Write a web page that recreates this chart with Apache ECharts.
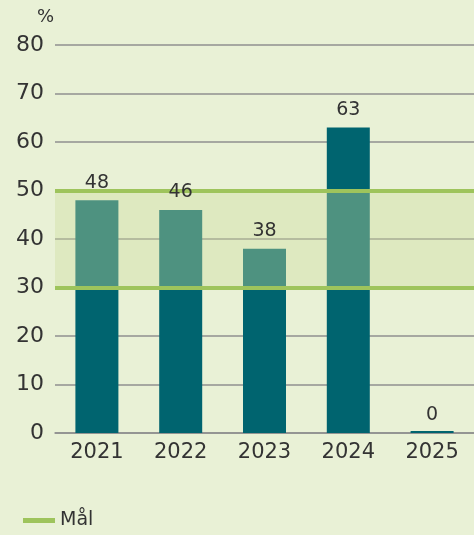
<!DOCTYPE html>
<html>
<head>
<meta charset="utf-8">
<script src="https://cdn.jsdelivr.net/npm/echarts@6/dist/echarts.min.js"></script>
<style>
  html, body { margin: 0; padding: 0; background: #e9f1d6; }
  #chart { width: 474px; height: 535px; }
</style>
</head>
<body>
<div id="chart"></div>
<script>
const years = ['2021', '2022', '2023', '2024', '2025'];
const values = [48, 46, 38, 63, 0];
const goalLow = 30;
const goalHigh = 50;
const yTicks = [0, 10, 20, 30, 40, 50, 60, 70, 80];

const chart = echarts.init(document.getElementById('chart'));
const font = 'DejaVu Sans';

const options = {
  backgroundColor: '#e9f1d6',
  textStyle: { fontFamily: font },
  grid: { left: 55, right: 0, top: 45, bottom: 102, containLabel: false },
  legend: {
    left: 18, bottom: 0,
    itemWidth: 32, itemHeight: 5, itemGap: 4,
    icon: 'rect',
    textStyle: { fontFamily: font, fontSize: 19, color: '#333' },
    data: ['Mål']
  },
  graphic: [{
    type: 'text', left: 37, top: 8,
    style: { text: '%', fontFamily: font, fontSize: 18, fill: '#333' }
  }],
  xAxis: {
    type: 'category',
    data: years,
    axisLine: { show: true, lineStyle: { color: '#8f8f8f', width: 1.5 } },
    axisTick: { show: false },
    axisLabel: { fontFamily: font, fontSize: 21, color: '#333', margin: 9 }
  },
  yAxis: {
    type: 'value',
    min: yTicks[0], max: yTicks[yTicks.length - 1], interval: 10,
    axisLine: { show: false },
    axisTick: { show: false },
    axisLabel: { fontFamily: font, fontSize: 22, color: '#333', margin: 11 },
    splitLine: { lineStyle: { color: '#8f8f8f', width: 1.5 } }
  },
  series: [
    {
      type: 'bar',
      data: values,
      barWidth: 43,
      barMinHeight: 2,
      z: 2,
      itemStyle: { color: '#00646f' }
    },
    {
      name: 'Mål',
      type: 'line',
      data: [],
      z: 5,
      color: '#9ec45c',
      lineStyle: { color: '#9ec45c', width: 4 },
      markArea: {
        silent: true,
        z: 5,
        itemStyle: { color: 'rgba(205,222,158,0.38)' },
        data: [[{ yAxis: goalLow }, { yAxis: goalHigh }]]
      },
      markLine: {
        silent: true,
        z: 6,
        symbol: 'none',
        label: { show: false },
        lineStyle: { color: '#9ec45c', width: 4, type: 'solid' },
        data: [{ yAxis: goalLow }, { yAxis: goalHigh }]
      }
    },
    {
      // transparent copy of the bars, only to put the value labels on top
      type: 'bar',
      data: values,
      barWidth: 43,
      barGap: '-100%',
      z: 10,
      silent: true,
      itemStyle: { color: 'rgba(0,0,0,0)' },
      label: {
        show: true, position: 'top', distance: 8,
        fontFamily: font, fontSize: 19, color: '#333'
      }
    }
  ]
};

chart.setOption(options);
window.addEventListener('resize', chart.resize);
</script>
</body>
</html>
